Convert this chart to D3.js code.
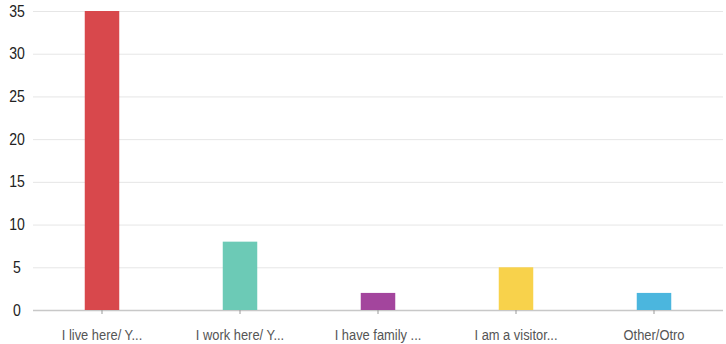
<!DOCTYPE html>
<html>
<head>
<meta charset="utf-8">
<script src="https://cdn.jsdelivr.net/npm/d3@7"></script>
<style>
  html, body { margin: 0; padding: 0; background: #fff; }
  svg { display: block; }
</style>
</head>
<body>
<svg id="chart" width="726" height="344"></svg>
<script>
// Survey responses by relationship to the area
const categories = ["I live here/ Y...", "I work here/ Y...", "I have family ...", "I am a visitor...", "Other/Otro"];
const counts = [35, 8, 2, 5, 2];
const barColors = ["#d8484c", "#6ccab6", "#a3459d", "#f8d24b", "#4bb6de"];
const yTicks = [0, 5, 10, 15, 20, 25, 30, 35];

const svg = d3.select("#chart");
const margin = { top: 11, right: 3, bottom: 34, left: 33 };
const width = 726, height = 344;
const font = "Liberation Sans, Arial, sans-serif";

const x = d3.scaleBand()
  .domain(categories)
  .range([margin.left, width - margin.right])
  .paddingInner(0.75)
  .paddingOuter(0.375);

const y = d3.scaleLinear()
  .domain([0, 35])
  .range([height - margin.bottom, margin.top]);

// horizontal gridlines with value labels
const yAxis = svg.append("g")
  .attr("transform", `translate(${margin.left},0)`)
  .call(d3.axisLeft(y).tickValues(yTicks).tickSize(-(width - margin.left - margin.right)).tickPadding(0));
yAxis.select(".domain").remove();
yAxis.selectAll(".tick line")
  .attr("stroke", d => d === 0 ? "#c8c8c8" : "#e6e6e6")
  .attr("stroke-width", d => d === 0 ? 1.5 : 1);
yAxis.selectAll(".tick text")
  .attr("fill", "#222")
  .attr("font-family", font)
  .attr("font-size", 16)
  .attr("text-anchor", "middle")
  .attr("x", 0)
  .attr("transform", "translate(-16,0) scale(0.88,1)");

// bars
svg.append("g").selectAll("rect")
  .data(categories)
  .join("rect")
  .attr("x", d => x(d))
  .attr("width", x.bandwidth())
  .attr("y", (d, i) => y(counts[i]))
  .attr("height", (d, i) => y(0) - y(counts[i]))
  .attr("fill", (d, i) => barColors[i]);

// category axis
const xAxis = svg.append("g")
  .attr("transform", `translate(0,${y(0)})`)
  .call(d3.axisBottom(x).tickSize(4).tickPadding(15));
xAxis.select(".domain").remove();
xAxis.selectAll(".tick line").attr("stroke", "#999");
xAxis.selectAll(".tick text")
  .attr("fill", "#555")
  .attr("font-family", font)
  .attr("font-size", 15)
  .attr("transform", "scale(0.86,1)");
</script>
</body>
</html>
